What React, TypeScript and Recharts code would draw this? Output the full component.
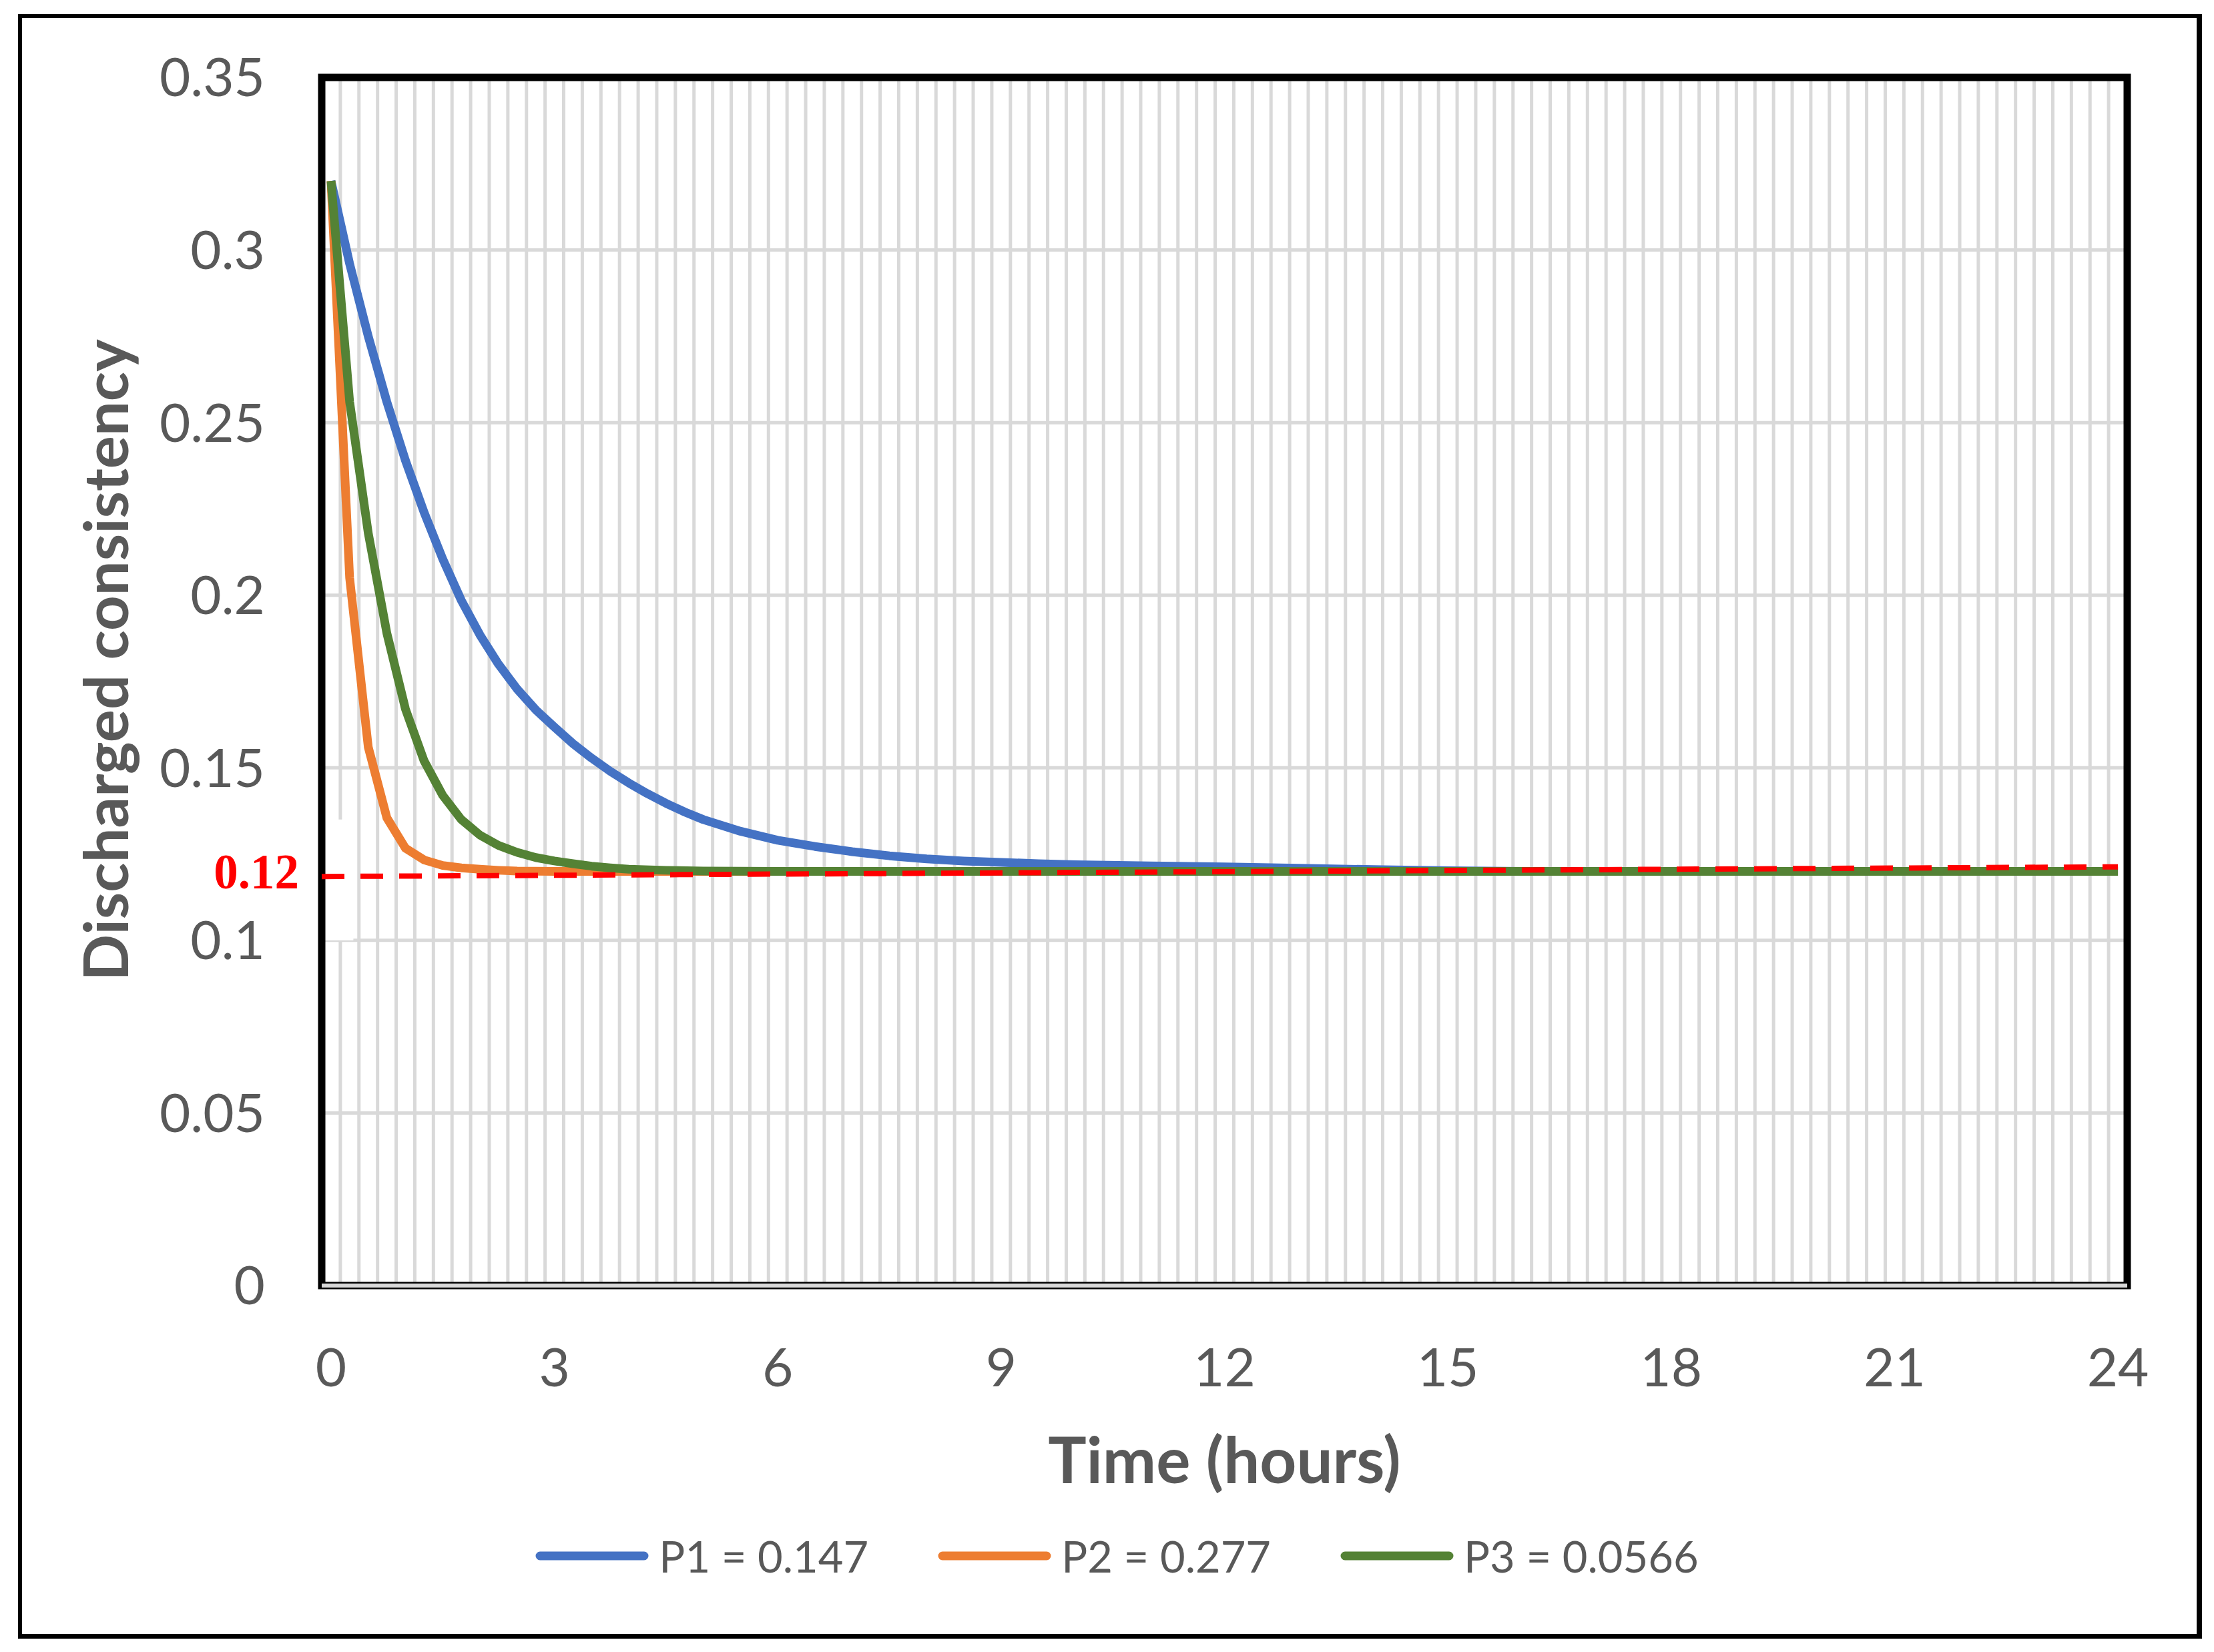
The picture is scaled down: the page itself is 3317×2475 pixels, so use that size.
import React from 'react';
import {
  LineChart,
  Line,
  XAxis,
  YAxis,
  CartesianGrid,
  ReferenceLine,
  ReferenceArea,
  ReferenceDot,
  Legend,
  Label,
} from 'recharts';

// ---- data ----
const p1Times = [0, 0.25, 0.5, 0.75, 1, 1.25, 1.5, 1.75, 2, 2.25, 2.5, 2.75, 3, 3.25, 3.5, 3.75, 4, 4.25, 4.5, 4.75, 5, 5.5, 6, 6.5, 7, 7.5, 8, 8.5, 9, 9.5, 10, 11, 12, 13, 14, 15, 16, 20, 24];
const p1Values = [0.32, 0.296, 0.275, 0.256, 0.239, 0.224, 0.2105, 0.1985, 0.1885, 0.18, 0.1728, 0.1668, 0.1618, 0.157, 0.1528, 0.149, 0.1456, 0.1425, 0.1397, 0.1372, 0.135, 0.1316, 0.129, 0.1272, 0.1257, 0.1245, 0.1236, 0.123, 0.1226, 0.1222, 0.1219, 0.1216, 0.1213, 0.1209, 0.1205, 0.1202, 0.12, 0.12, 0.12];

const p2Times = [0, 0.25, 0.5, 0.75, 1, 1.25, 1.5, 1.75, 2, 2.25, 2.5, 3, 24];
const p2Values = [0.32, 0.205, 0.156, 0.1355, 0.1267, 0.1233, 0.1217, 0.121, 0.1206, 0.1203, 0.1201, 0.12, 0.12];

const p3Times = [0, 0.25, 0.5, 0.75, 1, 1.25, 1.5, 1.75, 2, 2.25, 2.5, 2.75, 3, 3.25, 3.5, 3.75, 4, 4.5, 5, 6, 24];
const p3Values = [0.32, 0.256, 0.218, 0.189, 0.167, 0.152, 0.142, 0.135, 0.1305, 0.1275, 0.1255, 0.124, 0.123, 0.1222, 0.1215, 0.121, 0.1206, 0.1203, 0.1201, 0.12, 0.12];

const seriesNames = ['P1 = 0.147', 'P2 = 0.277', 'P3 = 0.0566'];
const seriesColors = ['#4472C4', '#ED7D31', '#548235'];

const xTicks = [0, 3, 6, 9, 12, 15, 18, 21, 24];
const yTicks = [0, 0.05, 0.1, 0.15, 0.2, 0.25, 0.3, 0.35];
const xDomain = [-0.125, 24.125];
const yDomain = [0, 0.35];

// threshold (red dashed) line, drawn slightly sloped as in the picture
const thresholdLabel = '0.12';
const thresholdLabelValue = 0.12;
const thresholdStart = { x: -0.125, y: 0.1185 };
const thresholdEnd = { x: 24, y: 0.1213 };

// category boundaries (every quarter hour) used for vertical gridlines
const gridBoundaries = Array.from({ length: 98 }, (_, i) => -0.125 + 0.25 * i);

const toPoints = (times: number[], values: number[]) =>
  times.map((t, i) => ({ t, v: values[i] }));

const p1Data = toPoints(p1Times, p1Values);
const p2Data = toPoints(p2Times, p2Values);
const p3Data = toPoints(p3Times, p3Values);

const W = 3317;
const H = 2475;
const GRAY = '#595959';
const FONT = 'Lato, Carlito, "Open Sans", sans-serif';

const renderLegend = (props: any) => {
  const payload = (props && props.payload && props.payload.length ? props.payload : seriesNames.map((n, i) => ({ value: n, color: seriesColors[i] })));
  return (
    <div
      style={{
        display: 'flex',
        justifyContent: 'center',
        alignItems: 'center',
        height: 100,
        paddingLeft: 30,
        fontFamily: FONT,
        fontSize: 65,
        color: GRAY,
      }}
    >
      {payload.map((p: any, i: number) => (
        <div key={String(p.value)} style={{ display: 'flex', alignItems: 'center', marginRight: i < payload.length - 1 ? 104 : 0 }}>
          <svg width={170} height={14} style={{ display: 'block' }}>
            <line x1={7} y1={7} x2={163} y2={7} stroke={p.color} strokeWidth={13} strokeLinecap="round" />
          </svg>
          <span style={{ marginLeft: 15, lineHeight: 1, whiteSpace: 'nowrap' }}>{p.value}</span>
        </div>
      ))}
    </div>
  );
};

export default function App() {
  return (
    <div style={{ position: 'absolute', left: 0, top: 0, width: W, height: H, background: '#fff' }}>
      <LineChart
        width={W}
        height={H}
        margin={{ top: 116, right: 130, bottom: 0, left: 0 }}
        style={{ fontFamily: FONT }}
      >
        <CartesianGrid
          stroke="#D9D9D9"
          strokeWidth={5}
          verticalValues={gridBoundaries}
          syncWithTicks={true}
          horizontal={true}
          vertical={true}
        />
        <ReferenceArea
          x1={-0.12}
          x2={0.3}
          y1={0.1}
          y2={0.135}
          fill="#FFFFFF"
          fillOpacity={1}
          stroke="none"
          ifOverflow="visible"
        />
        <XAxis
          type="number"
          dataKey="t"
          domain={xDomain}
          ticks={xTicks}
          interval={0}
          allowDataOverflow
          height={549}
          tickSize={0}
          tickMargin={94}
          axisLine={{ stroke: '#D9D9D9', strokeWidth: 6 }}
          tick={{ fill: GRAY, fontSize: 80, fontFamily: FONT }}
        >
          <Label
            content={(props: any) => {
              const vb = props.viewBox || { x: 482, y: 1926, width: 2705 };
              return (
                <text
                  x={vb.x + vb.width / 2}
                  y={vb.y + 296}
                  textAnchor="middle"
                  fontFamily={FONT}
                  fontWeight={700}
                  fontSize={96}
                  fill={GRAY}
                >
                  Time (hours)
                </text>
              );
            }}
          />
        </XAxis>
        <YAxis
          type="number"
          domain={yDomain}
          ticks={yTicks}
          width={482}
          tickSize={0}
          tickMargin={85}
          axisLine={false}
          tick={{ fill: GRAY, fontSize: 80, fontFamily: FONT }}
        >
          <Label
            content={() => (
              <text
                x={192}
                y={989}
                transform="rotate(-90 192 989)"
                textAnchor="middle"
                fontFamily={FONT}
                fontWeight={700}
                fontSize={92}
                fill={GRAY}
              >
                Discharged consistency
              </text>
            )}
          />
        </YAxis>
        <Line
          data={p1Data}
          dataKey="v"
          name={seriesNames[0]}
          type="linear"
          stroke={seriesColors[0]}
          strokeWidth={13}
          strokeLinejoin="round"
          dot={false}
          activeDot={false}
          isAnimationActive={false}
        />
        <Line
          data={p2Data}
          dataKey="v"
          name={seriesNames[1]}
          type="linear"
          stroke={seriesColors[1]}
          strokeWidth={13}
          strokeLinejoin="round"
          dot={false}
          activeDot={false}
          isAnimationActive={false}
        />
        <Line
          data={p3Data}
          dataKey="v"
          name={seriesNames[2]}
          type="linear"
          stroke={seriesColors[2]}
          strokeWidth={13}
          strokeLinejoin="round"
          dot={false}
          activeDot={false}
          isAnimationActive={false}
        />
        <ReferenceLine
          segment={[thresholdStart, thresholdEnd]}
          stroke="#FF0000"
          strokeWidth={8}
          strokeDasharray="34 24"
          ifOverflow="visible"
        />
        <ReferenceArea
          x1={xDomain[0]}
          x2={xDomain[1]}
          y1={yDomain[0]}
          y2={yDomain[1]}
          fill="none"
          fillOpacity={0}
          stroke="#000000"
          strokeWidth={11}
          ifOverflow="visible"
        />
        <ReferenceLine
          y={0}
          stroke="#D9D9D9"
          strokeWidth={6}
          ifOverflow="visible"
        />
        <ReferenceDot
          x={xDomain[0]}
          y={thresholdLabelValue}
          r={0}
          fill="none"
          stroke="none"
          ifOverflow="visible"
          label={{
            value: thresholdLabel,
            position: 'left',
            offset: 34,
            fill: '#FF0000',
            fontSize: 73,
            fontWeight: 700,
            fontFamily: '"Liberation Serif", "Times New Roman", serif',
          }}
        />
        <Legend
          layout="horizontal"
          verticalAlign="middle"
          align="center"
          content={renderLegend}
          wrapperStyle={{ top: 2281, left: 0, width: W, height: 100 }}
        />
      </LineChart>
      <div
        style={{
          position: 'absolute',
          left: 27,
          top: 21,
          width: 3272,
          height: 2434,
          boxSizing: 'border-box',
          borderStyle: 'solid',
          borderColor: '#000',
          borderWidth: '6px 8px 7px 6px',
          pointerEvents: 'none',
        }}
      />
    </div>
  );
}
